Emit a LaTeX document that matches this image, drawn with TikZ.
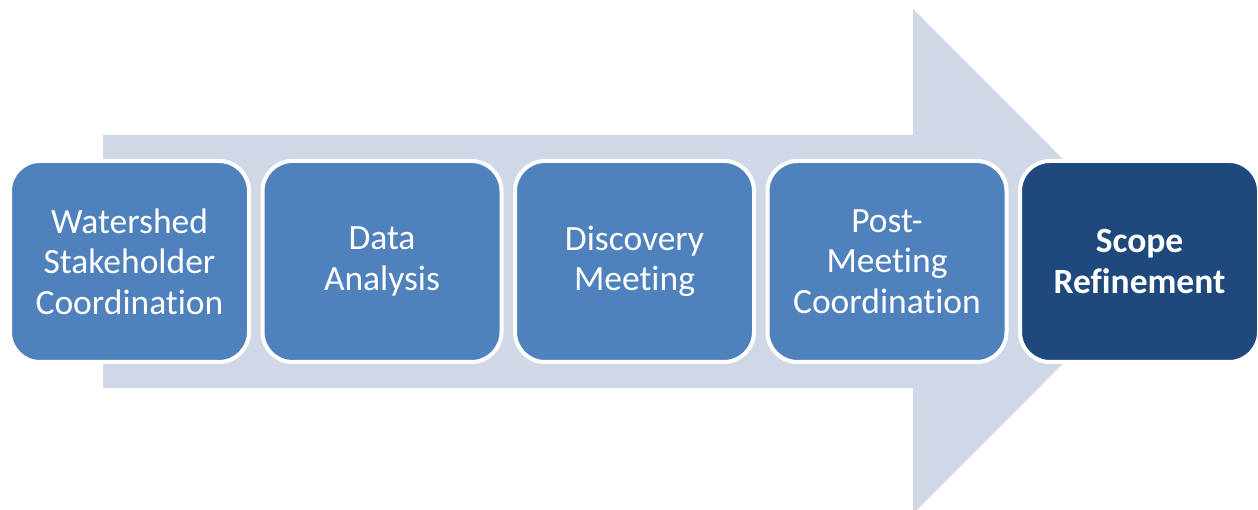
\documentclass[tikz,border=0pt]{standalone}
\usepackage{fontspec}
\setmainfont{Carlito}[Ligatures=CommonOff]
\definecolor{arrowcol}{HTML}{D0D8E8}
\definecolor{boxcol}{HTML}{4F81BD}
\definecolor{lastcol}{HTML}{1F497D}
\tikzset{
  stagebox/.style={draw=white, line width=4pt, fill=boxcol, rounded corners=30pt,
    minimum width=239pt, minimum height=201pt, text=white, align=center,
    font=\fontsize{35.5}{40.5}\selectfont, inner sep=0pt},
  finalbox/.style={stagebox, fill=lastcol, font=\fontsize{35.5}{40.5}\selectfont\bfseries}
}
\begin{document}
\begin{tikzpicture}[x=1pt,y=1pt]
\useasboundingbox (0,0) rectangle (1258,510);
\begin{scope}
\clip (0,0) rectangle (1258,510);
\fill[arrowcol] (103,375) -- (913,375) -- (913,501) -- (1165,248.5) -- (913,-4) -- (913,122) -- (103,122) -- cycle;
\end{scope}
\node[stagebox] (s1) at (129.5,248.5) {Watershed\\Stakeholder\\Coordination};
\node[stagebox] (s2) at (382,248.5) {Data\\Analysis};
\node[stagebox] (s3) at (634.5,248.5) {Discovery\\Meeting};
\node[stagebox] (s4) at (887,248.5) {Post-\\Meeting\\Coordination};
\node[finalbox] (s5) at (1139.5,248.5) {Scope\\Refinement};
\end{tikzpicture}
\end{document}
